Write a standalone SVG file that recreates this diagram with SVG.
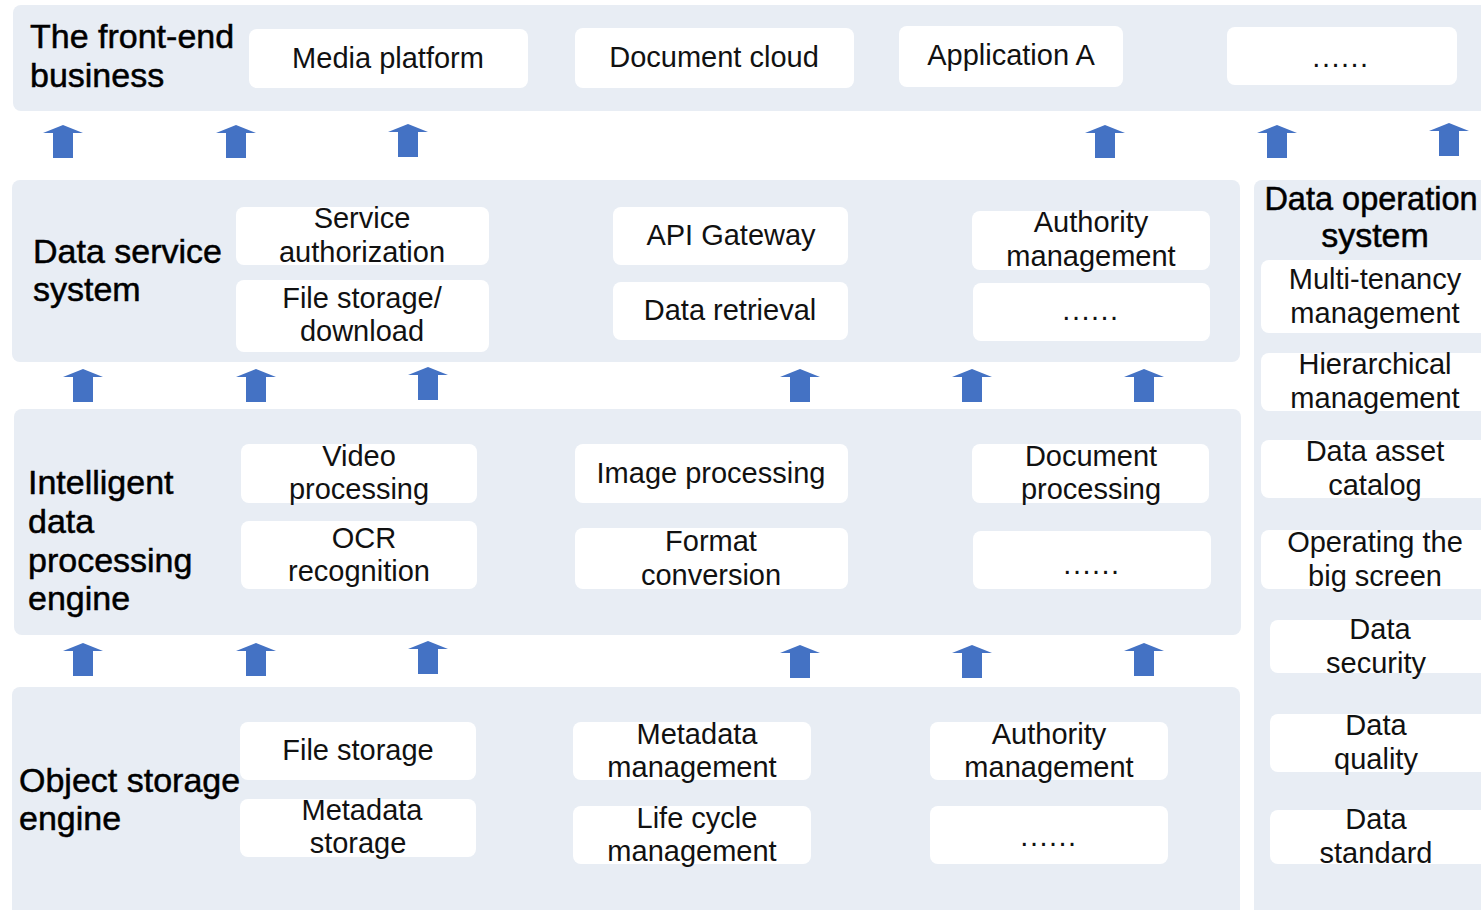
<svg xmlns="http://www.w3.org/2000/svg" xmlns:xlink="http://www.w3.org/1999/xlink" width="1481" height="910" viewBox="0 0 1481 910">
<style>
.band{fill:#E8EDF4}
.box{fill:#FFFFFF}
.t{font-family:"Liberation Sans",Arial,sans-serif;font-size:29px;fill:#111;text-anchor:middle}
.dots{letter-spacing:1.5px}
.lbl{font-family:"Liberation Sans",Arial,sans-serif;font-size:34px;fill:#000;stroke:#000;stroke-width:0.5}
.arr{fill:#4472C4}
</style>
<defs>
<path id="up" class="arr" d="M0,0 L20,8 L10,8 L10,33 L-10,33 L-10,8 L-20,8 Z"/>
</defs>
<rect width="1481" height="910" fill="#FFFFFF"/>

<g id="band-frontend">
<rect class="band" x="13" y="5" width="1480" height="106" rx="8"/>
<text class="lbl" x="30" y="48">The front-end</text>
<text class="lbl" x="30" y="87">business</text>
</g>
<g id="band-dataservice">
<rect class="band" x="12" y="180" width="1228" height="182" rx="8"/>
<text class="lbl" x="33" y="263">Data service</text>
<text class="lbl" x="33" y="301">system</text>
</g>
<g id="band-intelligent">
<rect class="band" x="14" y="409" width="1227" height="226" rx="8"/>
<text class="lbl" x="28" y="494">Intelligent</text>
<text class="lbl" x="28" y="533">data</text>
<text class="lbl" x="28" y="572">processing</text>
<text class="lbl" x="28" y="610">engine</text>
</g>
<g id="band-objectstorage">
<rect class="band" x="12" y="687" width="1228" height="235" rx="8"/>
<text class="lbl" x="19" y="792">Object storage</text>
<text class="lbl" x="19" y="830">engine</text>
</g>
<g id="band-dataoperation">
<rect class="band" x="1254" y="180" width="240" height="740" rx="8"/>
<text class="lbl" x="1371" y="210" text-anchor="middle" style="font-size:32.5px">Data operation</text>
<text class="lbl" x="1375" y="247" text-anchor="middle">system</text>
</g>

<g id="n-media"><rect class="box" x="249" y="29" width="279" height="59" rx="8"/><text class="t" x="388" y="68">Media platform</text></g>
<g id="n-doccloud"><rect class="box" x="575" y="28" width="279" height="60" rx="8"/><text class="t" x="714" y="67">Document cloud</text></g>
<g id="n-appa"><rect class="box" x="899" y="26" width="224" height="61" rx="8"/><text class="t" x="1011" y="65">Application A</text></g>
<g id="n-more1"><rect class="box" x="1227" y="27" width="230" height="58" rx="8"/><text class="t dots" x="1341" y="67">......</text></g>

<g id="n-svcauth"><rect class="box" x="236" y="207" width="253" height="58" rx="8"/><text class="t" x="362" y="228">Service</text><text class="t" x="362" y="262">authorization</text></g>
<g id="n-filestore"><rect class="box" x="236" y="280" width="253" height="72" rx="8"/><text class="t" x="362" y="308">File storage/</text><text class="t" x="362" y="341">download</text></g>
<g id="n-api"><rect class="box" x="613" y="207" width="235" height="58" rx="8"/><text class="t" x="731" y="245">API Gateway</text></g>
<g id="n-retrieval"><rect class="box" x="613" y="282" width="235" height="58" rx="8"/><text class="t" x="730" y="320">Data retrieval</text></g>
<g id="n-auth1"><rect class="box" x="972" y="211" width="238" height="59" rx="8"/><text class="t" x="1091" y="232">Authority</text><text class="t" x="1091" y="266">management</text></g>
<g id="n-more2"><rect class="box" x="973" y="283" width="237" height="58" rx="8"/><text class="t dots" x="1091" y="320">......</text></g>

<g id="n-video"><rect class="box" x="241" y="444" width="236" height="59" rx="8"/><text class="t" x="359" y="466">Video</text><text class="t" x="359" y="499">processing</text></g>
<g id="n-ocr"><rect class="box" x="241" y="521" width="236" height="68" rx="8"/><text class="t" x="364" y="548">OCR</text><text class="t" x="359" y="581">recognition</text></g>
<g id="n-image"><rect class="box" x="575" y="444" width="273" height="59" rx="8"/><text class="t" x="711" y="483">Image processing</text></g>
<g id="n-format"><rect class="box" x="575" y="528" width="273" height="61" rx="8"/><text class="t" x="711" y="551">Format</text><text class="t" x="711" y="585">conversion</text></g>
<g id="n-docproc"><rect class="box" x="972" y="444" width="237" height="59" rx="8"/><text class="t" x="1091" y="466">Document</text><text class="t" x="1091" y="499">processing</text></g>
<g id="n-more3"><rect class="box" x="973" y="531" width="238" height="58" rx="8"/><text class="t dots" x="1092" y="574">......</text></g>

<g id="n-file"><rect class="box" x="240" y="722" width="236" height="58" rx="8"/><text class="t" x="358" y="760">File storage</text></g>
<g id="n-metastore"><rect class="box" x="240" y="799" width="236" height="58" rx="8"/><text class="t" x="362" y="820">Metadata</text><text class="t" x="358" y="853">storage</text></g>
<g id="n-metamgmt"><rect class="box" x="573" y="722" width="238" height="58" rx="8"/><text class="t" x="697" y="744">Metadata</text><text class="t" x="692" y="777">management</text></g>
<g id="n-lifecycle"><rect class="box" x="573" y="806" width="238" height="58" rx="8"/><text class="t" x="697" y="828">Life cycle</text><text class="t" x="692" y="861">management</text></g>
<g id="n-auth2"><rect class="box" x="930" y="722" width="238" height="58" rx="8"/><text class="t" x="1049" y="744">Authority</text><text class="t" x="1049" y="777">management</text></g>
<g id="n-more4"><rect class="box" x="930" y="806" width="238" height="58" rx="8"/><text class="t dots" x="1049" y="846">......</text></g>

<g id="n-tenancy"><rect class="box" x="1261" y="260" width="240" height="73" rx="8"/><text class="t" x="1375" y="289">Multi-tenancy</text><text class="t" x="1375" y="323">management</text></g>
<g id="n-hier"><rect class="box" x="1261" y="353" width="240" height="58" rx="8"/><text class="t" x="1375" y="374">Hierarchical</text><text class="t" x="1375" y="408">management</text></g>
<g id="n-asset"><rect class="box" x="1261" y="440" width="240" height="58" rx="8"/><text class="t" x="1375" y="461">Data asset</text><text class="t" x="1375" y="495">catalog</text></g>
<g id="n-bigscreen"><rect class="box" x="1261" y="530" width="240" height="59" rx="8"/><text class="t" x="1375" y="552">Operating the</text><text class="t" x="1375" y="586">big screen</text></g>
<g id="n-security"><rect class="box" x="1270" y="620" width="231" height="53" rx="8"/><text class="t" x="1380" y="639">Data</text><text class="t" x="1376" y="673">security</text></g>
<g id="n-quality"><rect class="box" x="1270" y="714" width="231" height="58" rx="8"/><text class="t" x="1376" y="735">Data</text><text class="t" x="1376" y="769">quality</text></g>
<g id="n-standard"><rect class="box" x="1270" y="810" width="231" height="54" rx="8"/><text class="t" x="1376" y="829">Data</text><text class="t" x="1376" y="863">standard</text></g>

<g id="connectors">
<use xlink:href="#up" x="63" y="125"/>
<use xlink:href="#up" x="236" y="125"/>
<use xlink:href="#up" x="408" y="124"/>
<use xlink:href="#up" x="1105" y="125"/>
<use xlink:href="#up" x="1277" y="125"/>
<use xlink:href="#up" x="1449" y="123"/>
<use xlink:href="#up" x="83" y="369"/>
<use xlink:href="#up" x="256" y="369"/>
<use xlink:href="#up" x="428" y="367"/>
<use xlink:href="#up" x="800" y="369"/>
<use xlink:href="#up" x="972" y="369"/>
<use xlink:href="#up" x="1144" y="369"/>
<use xlink:href="#up" x="83" y="643"/>
<use xlink:href="#up" x="256" y="643"/>
<use xlink:href="#up" x="428" y="641"/>
<use xlink:href="#up" x="800" y="645"/>
<use xlink:href="#up" x="972" y="645"/>
<use xlink:href="#up" x="1144" y="643"/>
</g>
</svg>
